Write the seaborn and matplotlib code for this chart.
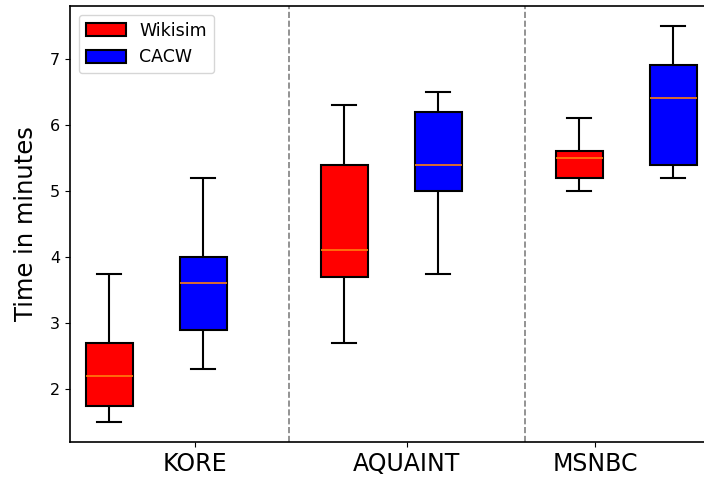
import numpy as np
import pandas as pd
import matplotlib
matplotlib.use("Agg")
import matplotlib.pyplot as plt
import seaborn as sns

# Data (five-number summaries)
datasets = ["KORE", "AQUAINT", "MSNBC"]
methods = ["Wikisim", "CACW"]
wikisim_stats = [
    [1.50, 1.75, 2.20, 2.70, 3.75],
    [2.70, 3.70, 4.10, 5.40, 6.30],
    [5.00, 5.20, 5.50, 5.60, 6.10],
]
cacw_stats = [
    [2.30, 2.90, 3.60, 4.00, 5.20],
    [3.75, 5.00, 5.40, 6.20, 6.50],
    [5.20, 5.40, 6.40, 6.90, 7.50],
]
colors = {"Wikisim": "red", "CACW": "blue"}

group_centers = [0.0, 2.0, 4.0]
offsets = {"Wikisim": -0.4, "CACW": 0.4}
tick_pos = [0.33, 2.134, 3.734]
sep_lines = [1.132, 3.14]

rows = []
for gi, g in enumerate(datasets):
    for m, stats in (("Wikisim", wikisim_stats), ("CACW", cacw_stats)):
        for v in stats[gi]:
            rows.append({"pos": group_centers[gi] + offsets[m], "method": m, "value": v})
df = pd.DataFrame(rows)

fig = plt.figure(figsize=(7.04, 4.78), dpi=100)
ax_w_px = 640
ax = fig.add_axes([70 / 704, 1 - 442 / 478, ax_w_px / 704, (442 - 6) / 478])

sns.boxplot(
    data=df, x="pos", y="value", hue="method", hue_order=methods,
    native_scale=True, dodge=False, width=0.5, whis=(0, 100),
    palette=colors, linecolor="black", linewidth=1.5, saturation=1,
    medianprops={"color": "#ff7f0e", "linewidth": 1.2},
    ax=ax,
)

for x in sep_lines:
    ax.axvline(x, color="grey", linestyle="--", linewidth=1.2)

ax.set_xlim(-0.734, -0.734 + ax_w_px / 117.5)
ax.set_ylim(1.2, 7.8)
ax.set_xticks(tick_pos)
ax.set_xticklabels(datasets, fontsize=17)
ax.tick_params(axis="y", labelsize=11.5)
ax.set_xlabel("")
ax.set_ylabel("Time in minutes", fontsize=17.5, labelpad=9)
for s in ax.spines.values():
    s.set_linewidth(1.2)

leg = ax.legend(loc="upper left", fontsize=12.5, title=None,
                handlelength=2.3, handleheight=0.8)
fig.savefig("out.png", dpi=100)
